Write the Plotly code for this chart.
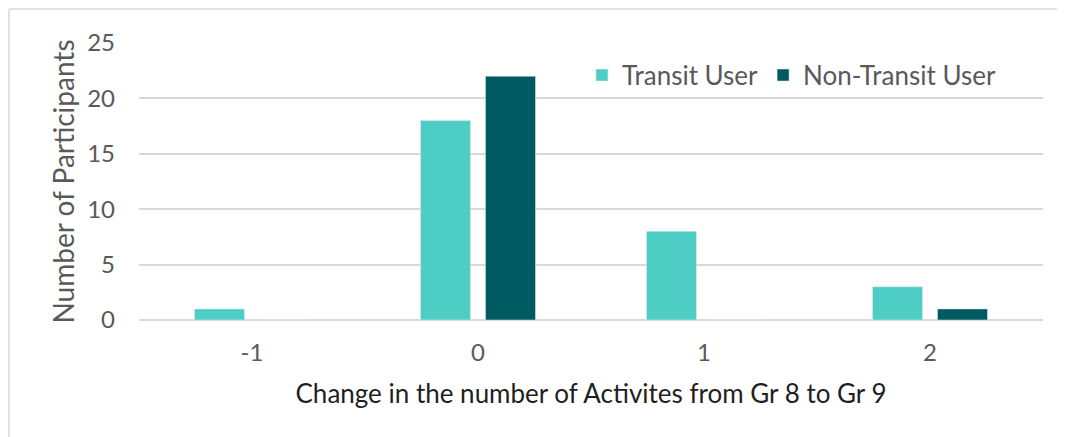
import plotly.graph_objects as go

categories = ["-1", "0", "1", "2"]
transit = [1, 18, 8, 3]
non_transit = [0, 22, 0, 1]

FONT = "Lato"
fig = go.Figure()
fig.add_trace(go.Bar(x=categories, y=transit, name="Transit User", marker_color="#4ECDC4"))
fig.add_trace(go.Bar(x=categories, y=non_transit, name="Non-Transit User", marker_color="#005A62"))

bx0 = (9 - 139) / 904
bx1 = (1066 - 139) / 904
by1 = (320 - 9) / 277
border = dict(color="#D9D9D9", width=1.5)

fig.update_layout(
    width=1057, height=429,
    margin=dict(l=131, r=22, t=35, b=117),
    paper_bgcolor="white", plot_bgcolor="white",
    barmode="group", bargap=0.425, bargroupgap=0.23,
    font=dict(family=FONT, color="#595959"),
    showlegend=True,
    legend=dict(orientation="h", x=0.49, xanchor="left", y=0.884, yanchor="middle",
                font=dict(size=26, color="#595959", family=FONT), bgcolor="rgba(0,0,0,0)",
                traceorder="normal", itemwidth=30),
    xaxis=dict(type="category", showgrid=False, showline=False, ticks="",
               tickfont=dict(size=24, color="#595959"), ticklabelstandoff=16,
               title=dict(text="Change in the number of Activites from Gr 8 to Gr 9",
                          font=dict(size=26, color="#1F1F1F"), standoff=19)),
    yaxis=dict(range=[0, 25], dtick=5, showgrid=True, gridcolor="#D9D9D9", gridwidth=1.5,
               zeroline=True, zerolinecolor="#D9D9D9", zerolinewidth=1.5,
               tickfont=dict(size=24, color="#595959"), ticks="", ticklabelstandoff=23,
               title=dict(text="Number of Participants", font=dict(size=28, color="#595959"), standoff=4)),
    shapes=[
        dict(type="line", xref="paper", yref="paper", x0=bx0, x1=bx1, y0=by1, y1=by1, line=border),
        dict(type="line", xref="paper", yref="paper", x0=bx0, x1=bx0, y0=-0.5, y1=by1, line=border),
    ],
)

fig.write_html("out.html")
